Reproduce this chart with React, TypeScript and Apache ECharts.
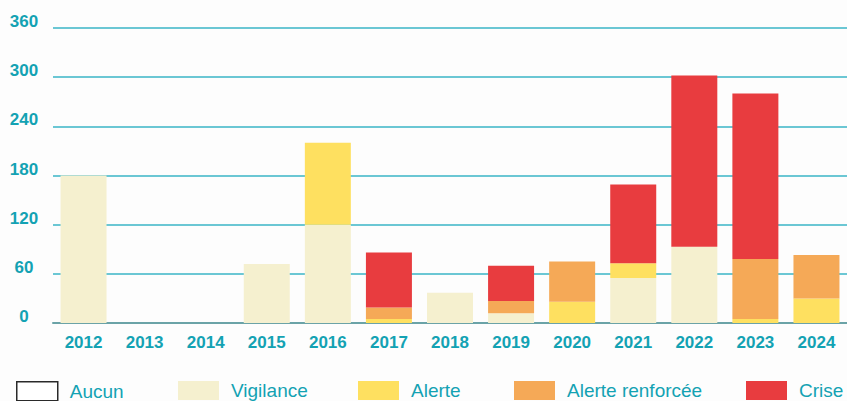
import React, { useEffect, useRef } from "react";
import * as echarts from "echarts";

const years = ["2012", "2013", "2014", "2015", "2016", "2017", "2018", "2019", "2020", "2021", "2022", "2023", "2024"];
const aucun = [null, null, null, null, null, null, null, null, null, null, null, null, null];
const vigilance = [180, 0, 0, 72, 120, 0, 37, 12, 0, 55, 93, 0, 0];
const alerte = [0, 0, 0, 0, 100, 5, 0, 0, 26, 18, 0, 5, 30];
const alerteRenforcee = [0, 0, 0, 0, 0, 14, 0, 15, 49, 0, 0, 73, 53];
const crise = [0, 0, 0, 0, 0, 67, 0, 43, 0, 96, 209, 202, 0];

const FONT = "'Liberation Sans', Arial, sans-serif";
const TEAL = "#13a2b3";

const seriesDefs = [
  { name: "Aucun", data: aucun, color: "#ffffff", left: 16 },
  { name: "Vigilance", data: vigilance, color: "#f5f0cf", left: 178 },
  { name: "Alerte", data: alerte, color: "#fee060", left: 358 },
  { name: "Alerte renforcée", data: alerteRenforcee, color: "#f5a957", left: 514 },
  { name: "Crise", data: crise, color: "#e83c3f", left: 746 },
];

export default function App() {
  const ref = useRef<HTMLDivElement>(null);
  useEffect(() => {
    if (!ref.current) return;
    const chart = echarts.init(ref.current, null, { renderer: "svg" });
    chart.setOption({
      animation: false,
      backgroundColor: "#fdfdfd",
      grid: { left: 53, right: -5, top: 28, bottom: 78 },
      xAxis: {
        type: "category",
        data: years,
        axisTick: { show: false },
        axisLine: { lineStyle: { color: "#6ba3a7", width: 2 } },
        axisLabel: { color: TEAL, fontFamily: FONT, fontWeight: "bold", fontSize: 17, margin: 11 },
      },
      yAxis: {
        type: "value",
        min: 0,
        max: 360,
        interval: 60,
        axisLine: { show: false },
        axisTick: { show: false },
        splitLine: { lineStyle: { color: "#3ab4c6", width: 1.5 } },
        axisLabel: {
          color: TEAL,
          fontFamily: FONT,
          fontWeight: "bold",
          fontSize: 17,
          align: "center",
          verticalAlign: "bottom",
          lineHeight: 13,
          margin: 29,
        },
      },
      legend: seriesDefs.map((s) => ({
        data: [
          s.name === "Aucun"
            ? { name: s.name, itemStyle: { color: "#ffffff", borderColor: "#2a2a2a", borderWidth: 1.5 } }
            : { name: s.name },
        ],
        left: s.left,
        top: 381,
        padding: 0,
        itemWidth: 41,
        itemHeight: 19,
        icon: "rect",
        selectedMode: false,
        textStyle: { color: TEAL, fontFamily: FONT, fontSize: 19, lineHeight: 19, padding: [0, 0, 0, 7] },
      })),
      series: seriesDefs.map((s) => ({
        name: s.name,
        type: "bar",
        stack: "total",
        barWidth: 46,
        data: s.data,
        itemStyle: s.name === "Aucun" ? { color: "#ffffff", borderColor: "#2a2a2a", borderWidth: 1.5 } : { color: s.color },
      })),
    });
    return () => chart.dispose();
  }, []);
  return <div ref={ref} style={{ position: "absolute", left: 0, top: 0, width: 847, height: 401 }} />;
}
